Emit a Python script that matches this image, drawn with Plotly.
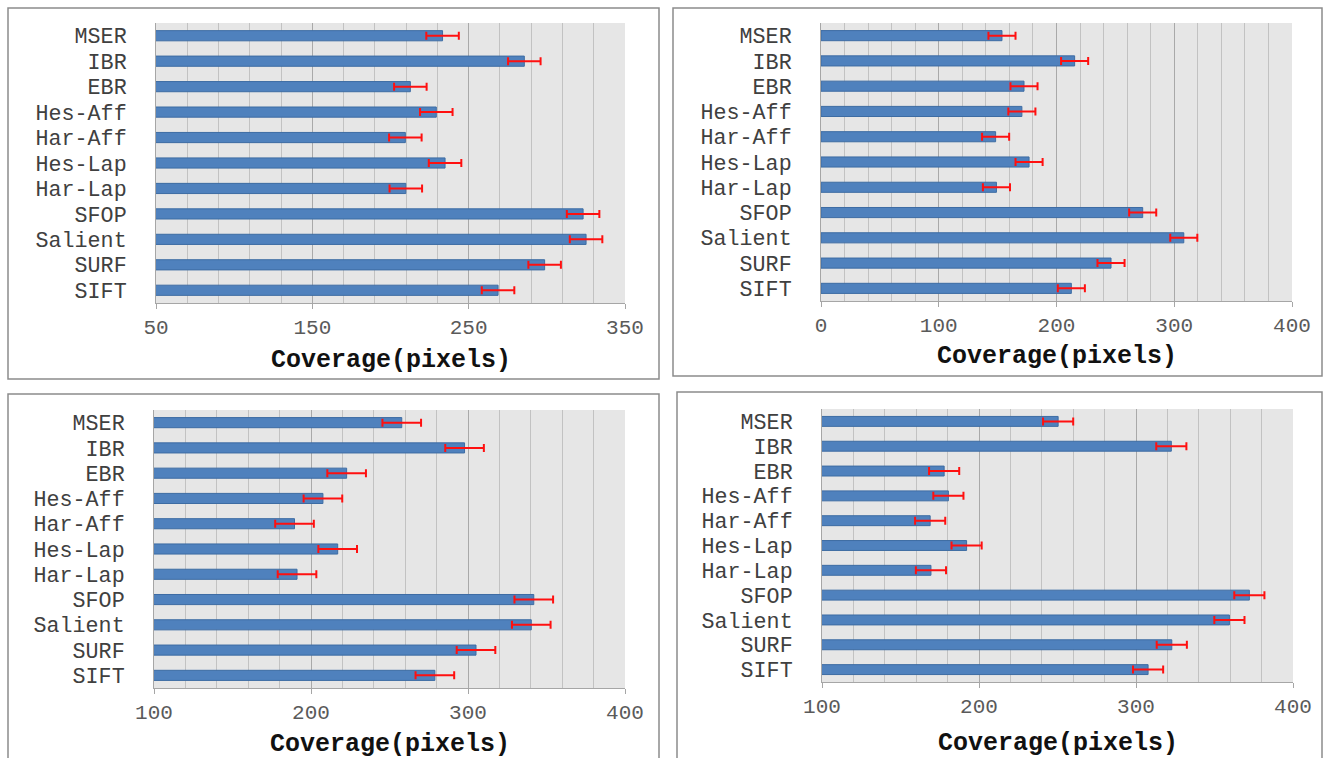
import plotly.graph_objects as go

W, H = 1329, 758

# ---- data -------------------------------------------------------------
detectors = ["MSER", "IBR", "EBR", "Hes-Aff", "Har-Aff", "Hes-Lap",
             "Har-Lap", "SFOP", "Salient", "SURF", "SIFT"]

coverage_a = [233.3, 285.6, 212.7, 229.3, 209.5, 234.9, 209.8, 323.2, 325.1, 298.6, 268.8]
error_a = [10.4, 10.4, 10.4, 10.4, 10.4, 10.4, 10.4, 10.4, 10.4, 10.4, 10.4]

coverage_b = [153.7, 215.4, 172.4, 170.6, 148.3, 176.7, 149.0, 273.2, 308.1, 246.3, 212.6]
error_b = [11.5, 11.5, 11.5, 11.5, 11.5, 11.5, 11.5, 11.5, 11.5, 11.5, 11.5]

coverage_c = [257.8, 297.8, 222.7, 207.6, 189.5, 217.0, 191.1, 341.9, 340.3, 305.1, 278.9]
error_c = [12.3, 12.3, 12.3, 12.3, 12.3, 12.3, 12.3, 12.3, 12.3, 12.3, 12.3]

coverage_d = [250.4, 322.5, 177.8, 180.5, 168.9, 192.1, 169.4, 372.2, 359.5, 322.8, 307.7]
error_d = [9.6, 9.6, 9.6, 9.6, 9.6, 9.6, 9.6, 9.6, 9.6, 9.6, 9.6]

axis_ranges = [[50, 350], [0, 400], [100, 400], [100, 400]]
axis_title = "Coverage(pixels)"

# ---- layout geometry (pixels) ----------------------------------------
# plot area: (left, top, right, bottom); frame: (left, top, right, bottom)
plot_boxes = [(156, 23, 625, 303), (821, 23, 1292, 301),
              (154, 410, 625, 688), (822, 409, 1293, 682)]
frame_boxes = [(8, 8, 659, 379), (673, 8, 1322, 376),
               (8, 394, 659, 790), (677, 392, 1322, 790)]
title_y = [360, 357, 744, 743]


def px_x(x):
    return x / W


def px_y(y):
    return 1 - y / H


MONO = "Liberation Mono, Courier New, monospace"
BAR_BLUE = "#4F81BD"
BAR_EDGE = "#3D6CA3"
ERR_RED = "#FF1010"

fig = go.Figure()
layout = dict(
    width=W, height=H,
    margin=dict(l=0, r=0, t=0, b=0),
    paper_bgcolor="white",
    plot_bgcolor="#E6E6E6",
    showlegend=False,
    bargap=0.6,
    shapes=[], annotations=[],
)

series = [(coverage_a, error_a), (coverage_b, error_b),
          (coverage_c, error_c), (coverage_d, error_d)]

for i, ((vals, errs), rng, pb, fb, ty) in enumerate(
        zip(series, axis_ranges, plot_boxes, frame_boxes, title_y)):
    n = "" if i == 0 else str(i + 1)
    xa, ya = "x" + n, "y" + n
    fig.add_trace(go.Bar(
        x=vals, y=detectors, orientation="h",
        xaxis=xa, yaxis=ya,
        marker=dict(color=BAR_BLUE, line=dict(color=BAR_EDGE, width=1)),
        error_x=dict(type="data", array=errs, visible=True,
                     color=ERR_RED, thickness=2, width=4),
        hoverinfo="x+y",
    ))
    l, t, r, b = pb
    layout["xaxis" + n] = dict(
        domain=[px_x(l), px_x(r)], anchor=ya, automargin=False,
        range=rng, tick0=rng[0], dtick=100,
        showgrid=True, gridcolor="#A9A9A9", gridwidth=1,
        showline=True, linecolor="#A6A6A6", linewidth=1,
        ticks="outside", ticklen=5, tickcolor="#A6A6A6",
        tickfont=dict(family=MONO, size=21, color="#5A5A5A"),
        ticklabelstandoff=0,
        zeroline=False, fixedrange=True,
        minor=dict(dtick=20, tick0=rng[0], showgrid=True,
                   gridcolor="#C2C2C2", gridwidth=1, ticks=""),
    )
    layout["yaxis" + n] = dict(
        domain=[px_y(b), px_y(t)], anchor=xa, automargin=False,
        type="category", categoryorder="array", categoryarray=detectors,
        tickmode="array", tickvals=detectors, ticktext=detectors,
        autorange="reversed",
        showgrid=False, showline=True, linecolor="#A6A6A6", linewidth=1,
        ticks="", ticklabelstandoff=24,
        tickfont=dict(family=MONO, size=21.7, color="#404040"),
        fixedrange=True,
    )
    # axis title
    layout["annotations"].append(dict(
        text="<b>" + axis_title + "</b>", xref="paper", yref="paper",
        x=px_x((l + r) / 2), y=px_y(ty), xanchor="center", yanchor="middle",
        showarrow=False, font=dict(family=MONO, size=25, color="#111111"),
    ))
    # panel frame
    fl, ft, fr, fbm = fb
    layout["shapes"].append(dict(
        type="rect", xref="paper", yref="paper",
        x0=px_x(fl), x1=px_x(fr), y0=px_y(fbm), y1=px_y(ft),
        line=dict(color="#8C8C8C", width=1.5), fillcolor="rgba(0,0,0,0)",
        layer="below",
    ))

fig.update_layout(**layout)
fig.write_html("out.html")
